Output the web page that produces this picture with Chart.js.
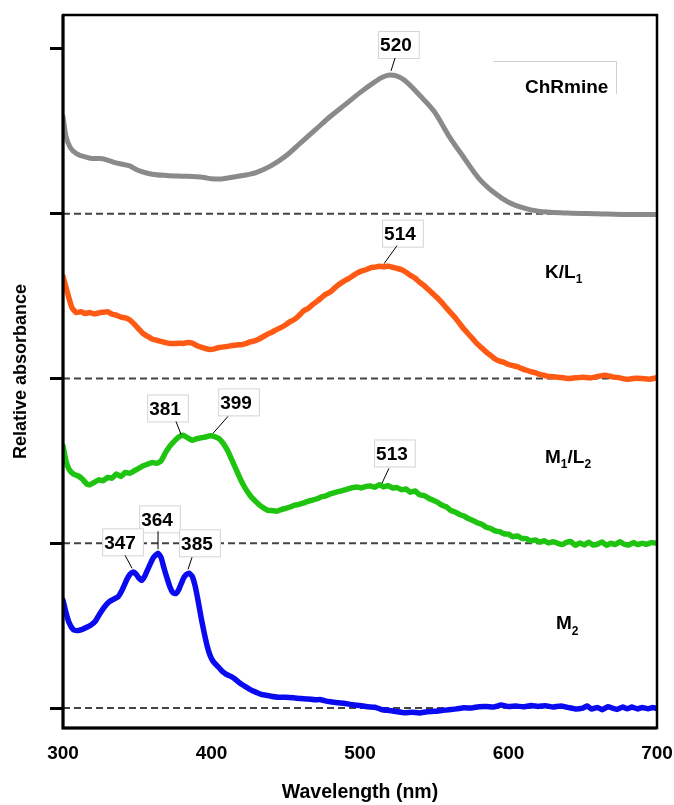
<!DOCTYPE html>
<html>
<head>
<meta charset="utf-8">
<script src="https://cdn.jsdelivr.net/npm/chart.js@4.4.1/dist/chart.umd.min.js"></script>
<style>
  html, body { margin: 0; padding: 0; background: #fff; }
  canvas { display: block; }
</style>
</head>
<body>
<canvas id="chartSpectra" width="674" height="805"></canvas>
<script>
// wavelengths (nm) and relative absorbance
var chrmineNm = [300, 302, 305, 310, 315, 320, 325, 330, 335, 340, 345, 350, 355, 360, 370, 380, 390, 395, 400, 405, 410, 420, 430, 440, 450, 460, 470, 480, 490, 500, 510, 515, 520, 525, 530, 540, 550, 560, 570, 580, 590, 600, 610, 620, 640, 660, 680, 700];
var chrmineAbs = [0.59, 0.47, 0.40, 0.36, 0.345, 0.335, 0.335, 0.325, 0.31, 0.30, 0.29, 0.265, 0.25, 0.24, 0.232, 0.228, 0.225, 0.22, 0.212, 0.21, 0.215, 0.23, 0.25, 0.29, 0.35, 0.43, 0.51, 0.59, 0.662, 0.735, 0.80, 0.828, 0.842, 0.835, 0.81, 0.72, 0.62, 0.47, 0.34, 0.215, 0.13, 0.07, 0.035, 0.015, 0.005, 0.0, -0.005, -0.005];

var kl1Nm = [300, 303, 306, 309, 312, 315, 318, 321, 324, 327, 330, 333, 336, 339, 342, 345, 348, 351, 354, 357, 360, 363, 366, 369, 372, 375, 378, 381, 384, 387, 390, 393, 396, 399, 402, 405, 408, 411, 414, 417, 420, 423, 426, 429, 432, 435, 438, 441, 444, 447, 450, 453, 456, 459, 462, 465, 468, 471, 474, 477, 480, 483, 486, 489, 492, 495, 498, 501, 504, 507, 510, 513, 516, 519, 522, 525, 528, 531, 534, 537, 540, 543, 546, 549, 552, 555, 558, 561, 564, 567, 570, 573, 576, 579, 582, 585, 588, 591, 594, 597, 600, 603, 606, 609, 612, 615, 618, 621, 624, 627, 630, 635, 640, 645, 650, 655, 660, 665, 670, 675, 680, 685, 690, 695, 700];
var kl1Abs = [0.62, 0.52, 0.43, 0.40, 0.405, 0.395, 0.40, 0.392, 0.398, 0.402, 0.405, 0.39, 0.385, 0.372, 0.368, 0.355, 0.33, 0.30, 0.272, 0.255, 0.24, 0.232, 0.225, 0.218, 0.213, 0.212, 0.214, 0.213, 0.218, 0.215, 0.20, 0.19, 0.182, 0.176, 0.18, 0.188, 0.192, 0.195, 0.20, 0.204, 0.205, 0.212, 0.222, 0.228, 0.24, 0.255, 0.27, 0.282, 0.298, 0.31, 0.326, 0.345, 0.36, 0.382, 0.41, 0.425, 0.448, 0.468, 0.49, 0.512, 0.525, 0.55, 0.572, 0.59, 0.605, 0.622, 0.64, 0.652, 0.66, 0.672, 0.676, 0.681, 0.678, 0.682, 0.675, 0.668, 0.66, 0.645, 0.626, 0.61, 0.585, 0.565, 0.54, 0.515, 0.49, 0.462, 0.43, 0.40, 0.37, 0.335, 0.30, 0.27, 0.24, 0.21, 0.185, 0.16, 0.14, 0.118, 0.105, 0.098, 0.085, 0.078, 0.072, 0.06, 0.05, 0.042, 0.035, 0.025, 0.02, 0.012, 0.01, 0.006, 0.0, 0.004, 0.008, 0.003, 0.012, 0.02, 0.01, 0.004, -0.005, 0.002, 0.0, -0.004, 0.005];

var m1l2Nm = [300, 302, 304, 307, 310, 313, 316, 318, 321, 324, 327, 330, 333, 336, 339, 342, 345, 348, 351, 354, 357, 360, 363, 366, 369, 372, 375, 378, 381, 384, 387, 390, 393, 396, 399, 402, 405, 408, 411, 414, 417, 420, 423, 426, 429, 432, 435, 438, 441, 444, 447, 450, 453, 456, 459, 462, 465, 468, 471, 474, 477, 480, 483, 486, 489, 492, 495, 498, 501, 504, 507, 510, 513, 516, 519, 522, 525, 528, 531, 534, 537, 540, 543, 546, 549, 552, 555, 558, 561, 564, 567, 570, 573, 576, 579, 582, 585, 588, 591, 594, 597, 600, 603, 606, 609, 612, 615, 618, 621, 624, 627, 630, 633, 636, 639, 642, 645, 648, 651, 654, 657, 660, 663, 666, 669, 672, 675, 678, 681, 684, 687, 690, 693, 696, 700];
var m1l2Abs = [0.59, 0.50, 0.45, 0.42, 0.41, 0.39, 0.36, 0.355, 0.37, 0.385, 0.38, 0.40, 0.395, 0.42, 0.405, 0.43, 0.425, 0.44, 0.455, 0.47, 0.48, 0.49, 0.485, 0.50, 0.55, 0.59, 0.62, 0.645, 0.655, 0.64, 0.625, 0.635, 0.64, 0.645, 0.652, 0.648, 0.635, 0.605, 0.56, 0.50, 0.44, 0.38, 0.33, 0.29, 0.26, 0.235, 0.215, 0.20, 0.198, 0.195, 0.205, 0.212, 0.22, 0.232, 0.236, 0.245, 0.255, 0.262, 0.27, 0.282, 0.288, 0.30, 0.308, 0.315, 0.322, 0.33, 0.338, 0.342, 0.336, 0.345, 0.348, 0.34, 0.355, 0.342, 0.35, 0.335, 0.338, 0.325, 0.33, 0.31, 0.318, 0.295, 0.29, 0.275, 0.262, 0.25, 0.232, 0.222, 0.20, 0.19, 0.175, 0.165, 0.15, 0.138, 0.125, 0.115, 0.098, 0.09, 0.075, 0.07, 0.058, 0.055, 0.04, 0.045, 0.03, 0.028, 0.015, 0.02, 0.008, 0.015, 0.002, 0.01, 0.0, -0.008, 0.005, 0.01, -0.012, 0.002, -0.01, 0.006, -0.01, -0.005, 0.008, -0.012, 0.0, -0.008, 0.01, -0.006, -0.01, 0.004, -0.008, 0.0, -0.006, 0.004, 0.0];

var m2Nm = [300, 302, 304, 307, 310, 313, 316, 319, 322, 325, 328, 331, 334, 337, 340, 343, 345, 347, 349, 351, 353, 355, 358, 361, 364, 366, 368, 370, 372, 374, 376, 378, 381, 383, 385, 387, 389, 391, 393, 395, 397, 399, 401, 404, 407, 410, 413, 416, 419, 422, 425, 428, 431, 434, 437, 440, 445, 450, 455, 460, 465, 470, 473, 476, 480, 485, 490, 495, 500, 505, 510, 515, 520, 525, 530, 535, 540, 545, 550, 555, 560, 565, 570, 575, 580, 585, 590, 595, 600, 605, 610, 615, 620, 625, 630, 635, 640, 645, 650, 653, 656, 660, 663, 667, 670, 673, 677, 680, 683, 687, 690, 694, 697, 700];
var m2Abs = [0.655, 0.58, 0.52, 0.475, 0.47, 0.478, 0.49, 0.505, 0.53, 0.575, 0.615, 0.645, 0.66, 0.675, 0.72, 0.78, 0.81, 0.825, 0.815, 0.79, 0.775, 0.80, 0.86, 0.915, 0.94, 0.915, 0.85, 0.79, 0.735, 0.70, 0.695, 0.72, 0.785, 0.81, 0.818, 0.80, 0.74, 0.65, 0.55, 0.46, 0.38, 0.32, 0.285, 0.255, 0.225, 0.205, 0.192, 0.175, 0.152, 0.135, 0.118, 0.103, 0.092, 0.082, 0.078, 0.072, 0.066, 0.065, 0.062, 0.058, 0.055, 0.05, 0.052, 0.045, 0.038, 0.032, 0.028, 0.02, 0.015, 0.008, 0.005, -0.01, -0.015, -0.022, -0.028, -0.025, -0.03, -0.022, -0.02, -0.015, -0.01, -0.005, 0.002, 0.0, 0.008, 0.01, 0.006, 0.018, 0.01, 0.012, 0.008, 0.015, 0.01, 0.014, 0.006, 0.012, 0.004, -0.005, 0.0, 0.012, -0.006, 0.004, -0.01, 0.008, 0.0, -0.008, 0.006, -0.004, 0.006, -0.005, 0.004, -0.004, 0.003, -0.002];

var seriesNames = ['ChRmine', 'K/L1', 'M1/L2', 'M2'];
var seriesColors = ['#8a8a8a', '#ff5a14', '#1ec40f', '#0a0af0'];
var seriesOffsets = [3, 2, 1, 0]; // spectra are stacked one unit apart
var xTicks = [300, 400, 500, 600, 700];
var yTicks = [0, 1, 2, 3, 4];

// peak labels: text, text centre, leader line start and end (data units)
var peakLabels = [
    { text: '520', x: 524.2, y: 4.024, sx: 523.6, sy: 3.945, ex: 520.9, ey: 3.867 },
    { text: '514', x: 526.9, y: 2.879, sx: 524.9, sy: 2.806, ex: 516.2, ey: 2.697 },
    { text: '381', x: 368.7, y: 1.818, sx: 376.1, sy: 1.739, ex: 379.5, ey: 1.661 },
    { text: '399', x: 416.5, y: 1.855, sx: 411.1, sy: 1.770, ex: 401.0, ey: 1.667 },
    { text: '513', x: 521.5, y: 1.545, sx: 519.5, sy: 1.455, ex: 514.8, ey: 1.364 },
    { text: '364', x: 363.3, y: 1.145, sx: 364.0, sy: 1.073, ex: 364.0, ey: 0.964 },
    { text: '347', x: 338.4, y: 1.006, sx: 341.8, sy: 0.927, ex: 346.5, ey: 0.848 },
    { text: '385', x: 390.2, y: 1.000, sx: 386.9, sy: 0.915, ex: 384.2, ey: 0.842 }
];

// series name labels: runs of [text, isSubscript], left edge and middle (data units)
var nameLabels = [
    { runs: [['ChRmine', false]], x: 611.1, y: 3.764 },
    { runs: [['K/L', false], ['1', true]], x: 624.6, y: 2.642 },
    { runs: [['M', false], ['1', true], ['/L', false], ['2', true]], x: 624.6, y: 1.521 },
    { runs: [['M', false], ['2', true]], x: 632.0, y: 0.509 }
];

var fontFamily = '"Liberation Sans", Arial, Helvetica, sans-serif';

function toPoints(xs, ys, offset) {
    return xs.map(function (x, i) {
        return { x: x, y: ys[i] + offset };
    });
}

var datasets = [];
// dashed zero lines for each stacked spectrum
seriesOffsets.forEach(function (off) {
    datasets.push({
        label: 'base' + off,
        data: [{ x: 300, y: off }, { x: 700, y: off }],
        borderColor: '#444',
        borderWidth: 2,
        borderDash: [7, 4],
        pointRadius: 0,
        order: 5
    });
});
var spectra = [
    [chrmineNm, chrmineAbs],
    [kl1Nm, kl1Abs],
    [m1l2Nm, m1l2Abs],
    [m2Nm, m2Abs]
];
spectra.forEach(function (s, i) {
    datasets.push({
        label: seriesNames[i],
        data: toPoints(s[0], s[1], seriesOffsets[i]),
        borderColor: seriesColors[i],
        borderWidth: i === 0 ? 5 : 5.5,
        pointRadius: 0,
        cubicInterpolationMode: i === 0 ? 'monotone' : 'default',
        tension: i === 0 ? 0.4 : 0.15,
        borderJoinStyle: 'round',
        borderCapStyle: 'round',
        order: 1
    });
});

var framePlugin = {
    id: 'frame',
    afterDraw: function (chart) {
        var ctx = chart.ctx, a = chart.chartArea;
        ctx.save();
        ctx.strokeStyle = '#000';
        ctx.lineWidth = 2.5;
        ctx.strokeRect(a.left, a.top, a.right - a.left, a.bottom - a.top);
        ctx.lineWidth = 3;
        ctx.beginPath();
        ctx.moveTo(a.left, a.top);
        ctx.lineTo(a.left, a.bottom);
        ctx.lineTo(a.right, a.bottom);
        ctx.stroke();
        ctx.restore();
    }
};

var labelPlugin = {
    id: 'peakLabels',
    afterDraw: function (chart) {
        var ctx = chart.ctx;
        var xs = chart.scales.x, ys = chart.scales.y;
        ctx.save();
        ctx.font = 'bold 19px ' + fontFamily;
        ctx.textBaseline = 'middle';
        peakLabels.forEach(function (p) {
            var cx = xs.getPixelForValue(p.x), cy = ys.getPixelForValue(p.y);
            var w = ctx.measureText(p.text).width;
            var left = cx - w / 2 - 2, right = cx + w / 2 + 8;
            ctx.fillStyle = '#fff';
            ctx.fillRect(left, cy - 14, right - left, 28);
            ctx.strokeStyle = '#d4d4d4';
            ctx.lineWidth = 1;
            ctx.strokeRect(left + 0.5, cy - 13.5, right - left - 1, 27);
            ctx.fillStyle = '#000';
            ctx.textAlign = 'center';
            ctx.fillText(p.text, cx, cy + 1);
            ctx.strokeStyle = '#000';
            ctx.lineWidth = 1;
            ctx.beginPath();
            ctx.moveTo(xs.getPixelForValue(p.sx), ys.getPixelForValue(p.sy));
            ctx.lineTo(xs.getPixelForValue(p.ex), ys.getPixelForValue(p.ey));
            ctx.stroke();
        });

        // thin box round the ChRmine name, only top and right edges show
        var bx0 = xs.getPixelForValue(589.6), bx1 = xs.getPixelForValue(672.4);
        var by0 = ys.getPixelForValue(3.927), by1 = ys.getPixelForValue(3.727);
        ctx.strokeStyle = '#cfcfcf';
        ctx.beginPath();
        ctx.moveTo(bx0, by0 + 0.5);
        ctx.lineTo(bx1 + 0.5, by0 + 0.5);
        ctx.lineTo(bx1 + 0.5, by1);
        ctx.stroke();

        ctx.textAlign = 'left';
        ctx.fillStyle = '#000';
        nameLabels.forEach(function (n) {
            var x = xs.getPixelForValue(n.x), y = ys.getPixelForValue(n.y);
            n.runs.forEach(function (r) {
                if (r[1]) {
                    ctx.font = 'bold 12px ' + fontFamily;
                    ctx.fillText(r[0], x, y + 7);
                } else {
                    ctx.font = 'bold 19px ' + fontFamily;
                    ctx.fillText(r[0], x, y);
                }
                x += ctx.measureText(r[0]).width;
            });
        });
        ctx.restore();
    }
};

var ctx = document.getElementById('chartSpectra').getContext('2d');
var chart = new Chart(ctx, {
    type: 'line',
    data: { datasets: datasets },
    options: {
        responsive: false,
        animation: false,
        layout: { padding: { left: 0, right: 17, top: 15, bottom: 0 } },
        plugins: {
            legend: { display: false },
            tooltip: { enabled: false }
        },
        scales: {
            x: {
                type: 'linear',
                min: 300,
                max: 700,
                afterBuildTicks: function (scale) {
                    scale.ticks = xTicks.map(function (v) { return { value: v }; });
                },
                ticks: {
                    color: '#000',
                    padding: 14,
                    font: { family: fontFamily, size: 19, weight: 'bold' }
                },
                grid: { display: false, drawTicks: false },
                border: { display: false },
                title: {
                    display: true,
                    text: 'Wavelength (nm)',
                    color: '#000',
                    font: { family: fontFamily, size: 19.5, weight: 'bold' },
                    padding: { top: 0, bottom: 1 }
                },
                afterFit: function (scale) {
                    scale.height = 77;
                    scale.paddingLeft = 0;
                    scale.paddingRight = 0;
                }
            },
            y: {
                type: 'linear',
                min: -0.121,
                max: 4.206,
                afterBuildTicks: function (scale) {
                    scale.ticks = yTicks.map(function (v) { return { value: v }; });
                },
                ticks: { display: false },
                grid: {
                    drawOnChartArea: false,
                    drawTicks: true,
                    tickLength: 13,
                    tickWidth: 3,
                    tickColor: '#000',
                    color: '#000'
                },
                border: { display: false },
                title: {
                    display: true,
                    text: 'Relative absorbance',
                    color: '#000',
                    font: { family: fontFamily, size: 18, weight: 'bold' },
                    padding: { top: 10, bottom: 0 }
                },
                afterFit: function (scale) { scale.width = 63; }
            }
        }
    },
    plugins: [framePlugin, labelPlugin]
});
</script>
</body>
</html>
